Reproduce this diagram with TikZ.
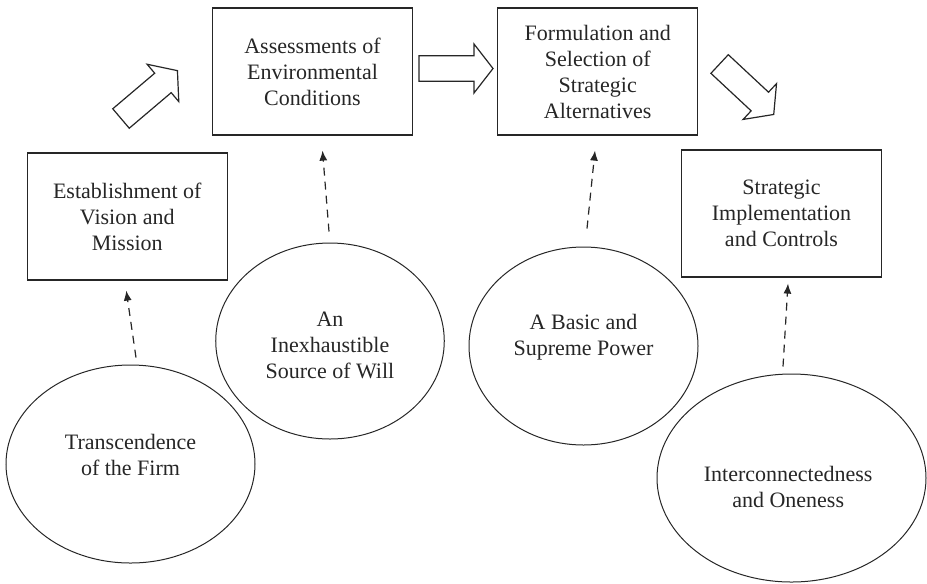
\documentclass[tikz,border=0pt]{standalone}
\usepackage{fontspec}
\setmainfont{Liberation Serif}
\usetikzlibrary{shapes.geometric,arrows.meta,calc}
\begin{document}
\begin{tikzpicture}[x=0.75pt,y=-0.75pt,
  every node/.style={font=\fontsize{16.5}{19.5}\selectfont, text=black!85},
  stagebox/.style={draw=black!85, line width=0.9pt, rectangle, align=center,
    inner sep=0pt, minimum width=150pt, minimum height=95.25pt},
  spirit/.style={draw=black!85, line width=0.75pt, ellipse, inner sep=0pt},
  spirittext/.style={align=center, inner sep=0pt},
  dasharrow/.style={draw=black!85, line width=0.9pt, dash pattern=on 6pt off 4.5pt,
    -{Latex[length=7.5pt,width=6pt]}},
  blockarrow/.style={draw=black!85, line width=0.9pt, line join=miter, fill=white}
]
\useasboundingbox (0,0) rectangle (927,583);

% stage boxes
\node[stagebox] (box1) at (127.25,216.5) {Establishment of\\Vision and\\Mission};
\node[stagebox] (box2) at (312.5,71.5) {Assessments of\\Environmental\\Conditions};
\node[stagebox] (box3) at (597.75,71.5) {Formulation and\\Selection of\\Strategic\\Alternatives};
\node[stagebox] (box4) at (781.5,213.5) {Strategic\\Implementation\\and Controls};

% ellipses
\node[spirit, minimum width=186.75pt, minimum height=148.5pt,
  label={[spirittext, yshift=6.75pt]center:{Transcendence\\of the Firm}}] (e1) at (130.5,464) {};
\node[spirit, minimum width=171.4pt, minimum height=147pt,
  label={[spirittext, yshift=-3pt]center:{An\\Inexhaustible\\Source of Will}}] (e2) at (330,341) {};
\node[spirit, minimum width=171.75pt, minimum height=148.5pt,
  label={[spirittext, yshift=6.75pt]center:{A Basic and\\Supreme Power}}] (e3) at (583.5,346) {};
\node[spirit, minimum width=201.75pt, minimum height=156pt,
  label={[spirittext, xshift=-2.5pt, yshift=-6.75pt]center:{Interconnectedness\\and Oneness}}] (e4) at (791.5,478) {};

% dashed arrows
\draw[dasharrow] ($(e1.north)+(5.5,-7)$) -- ($(box1.south)+(-1,10)$);
\draw[dasharrow] ($(e2.north)+(-1,-11)$) -- ($(box2.south)+(10,15)$);
\draw[dasharrow] ($(e3.north)+(3.5,-18)$) -- ($(box3.south)+(-2.75,15)$);
\draw[dasharrow] ($(e4.north)+(-8.5,-7)$) -- ($(box4.south)+(6.5,6)$);

% block arrows
\begin{scope}[shift={(121,118.5)}, rotate=40.3]
  \draw[blockarrow] (0,-12.75) -- (55,-12.75) -- (55,-24.5) -- (74,0) -- (55,24.5) -- (55,12.75) -- (0,12.75) -- cycle;
\end{scope}
\begin{scope}[shift={(419,68.5)}]
  \draw[blockarrow] (0,-12.75) -- (55,-12.75) -- (55,-24.5) -- (74,0) -- (55,24.5) -- (55,12.75) -- (0,12.75) -- cycle;
\end{scope}
\begin{scope}[shift={(719.6,64)}, rotate=-43]
  \draw[blockarrow] (0,-12.75) -- (55,-12.75) -- (55,-24.5) -- (74,0) -- (55,24.5) -- (55,12.75) -- (0,12.75) -- cycle;
\end{scope}
\end{tikzpicture}
\end{document}
